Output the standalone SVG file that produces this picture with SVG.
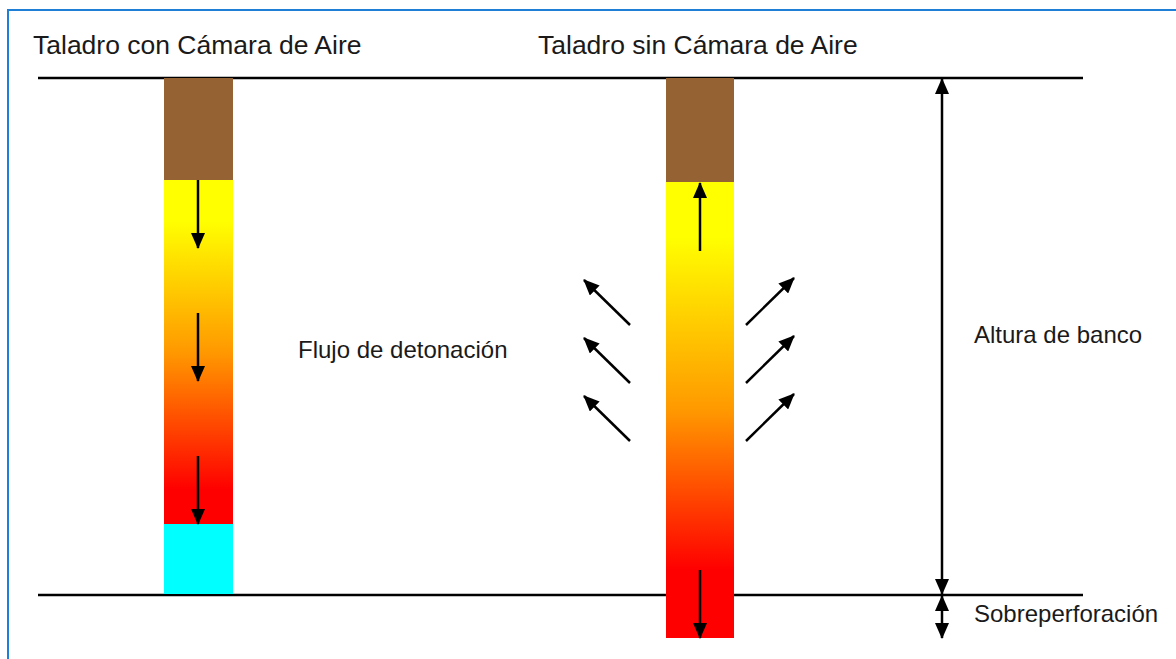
<svg xmlns="http://www.w3.org/2000/svg" width="1176" height="659" viewBox="0 0 1176 659">
<style>
text{font-family:"Liberation Sans",Arial,sans-serif;fill:#1a1a1a}
.t{font-size:26.5px}
.l{font-size:24px}
.ln{stroke:#000;stroke-width:2.5;fill:none}
.ar{stroke:#000;stroke-width:2.5;fill:none;marker-end:url(#ah)}
</style>
<defs>
<marker id="ah" viewBox="0 0 16 14" refX="15" refY="7" markerWidth="16" markerHeight="14" markerUnits="userSpaceOnUse" orient="auto">
<path d="M0,0 L16,7 L0,14 Z" fill="#000"/>
</marker>
<marker id="ahs" viewBox="0 0 16 14" refX="1" refY="7" markerWidth="16" markerHeight="14" markerUnits="userSpaceOnUse" orient="auto">
<path d="M16,0 L0,7 L16,14 Z" fill="#000"/>
</marker>
<linearGradient id="g1" x1="0" y1="0" x2="0" y2="1">
<stop offset="0" stop-color="#ffff00"/>
<stop offset="0.12" stop-color="#ffff00"/>
<stop offset="0.5" stop-color="#ff9900"/>
<stop offset="0.9" stop-color="#ff0000"/>
<stop offset="1" stop-color="#ff0000"/>
</linearGradient>
<linearGradient id="g2" x1="0" y1="0" x2="0" y2="1">
<stop offset="0" stop-color="#ffff00"/>
<stop offset="0.12" stop-color="#ffff00"/>
<stop offset="0.5" stop-color="#ff9900"/>
<stop offset="0.85" stop-color="#ff0000"/>
<stop offset="1" stop-color="#ff0000"/>
</linearGradient>
</defs>
<rect width="1176" height="659" fill="#fff"/>
<path d="M8,659 V10 H1176" stroke="#1f7fd6" stroke-width="2" fill="none"/>
<g id="ground">
<line class="ln" x1="38" y1="78" x2="1083" y2="78"/>
<line class="ln" x1="38" y1="595" x2="1083" y2="595"/>
</g>
<g id="hole-with-air">
<rect x="164" y="78" width="69" height="102" fill="#956234"/>
<rect x="164" y="180" width="69" height="344" fill="url(#g1)"/>
<rect x="164" y="524" width="69" height="70" fill="#00ffff"/>
</g>
<g id="hole-without-air">
<rect x="666" y="78" width="68" height="104" fill="#956234"/>
<rect x="666" y="182" width="68" height="456" fill="url(#g2)"/>
</g>
<g id="labels">
<text class="t" x="33" y="54">Taladro con Cámara de Aire</text>
<text class="t" x="538" y="54">Taladro sin Cámara de Aire</text>
<text class="l" x="298" y="358">Flujo de detonación</text>
<text class="l" x="974" y="343">Altura de banco</text>
<text class="l" x="974" y="622">Sobreperforación</text>
</g>
<g id="connectors">
<line class="ar" x1="198" y1="180" x2="198" y2="248"/>
<line class="ar" x1="198" y1="313" x2="198" y2="381"/>
<line class="ar" x1="198" y1="456" x2="198" y2="524"/>
<line class="ar" x1="700" y1="251" x2="700" y2="183"/>
<line class="ar" x1="700" y1="570" x2="700" y2="638"/>
<line class="ar" x1="630" y1="325" x2="584" y2="280"/>
<line class="ar" x1="630" y1="383" x2="584" y2="338"/>
<line class="ar" x1="630" y1="441" x2="584" y2="396"/>
<line class="ar" x1="746" y1="325" x2="794" y2="278"/>
<line class="ar" x1="746" y1="383" x2="794" y2="336"/>
<line class="ar" x1="746" y1="441" x2="794" y2="394"/>
<line class="ar" x1="942" y1="79" x2="942" y2="594" style="marker-start:url(#ahs)"/>
<line class="ar" x1="942" y1="596" x2="942" y2="638" style="marker-start:url(#ahs)"/>
</g>
</svg>
